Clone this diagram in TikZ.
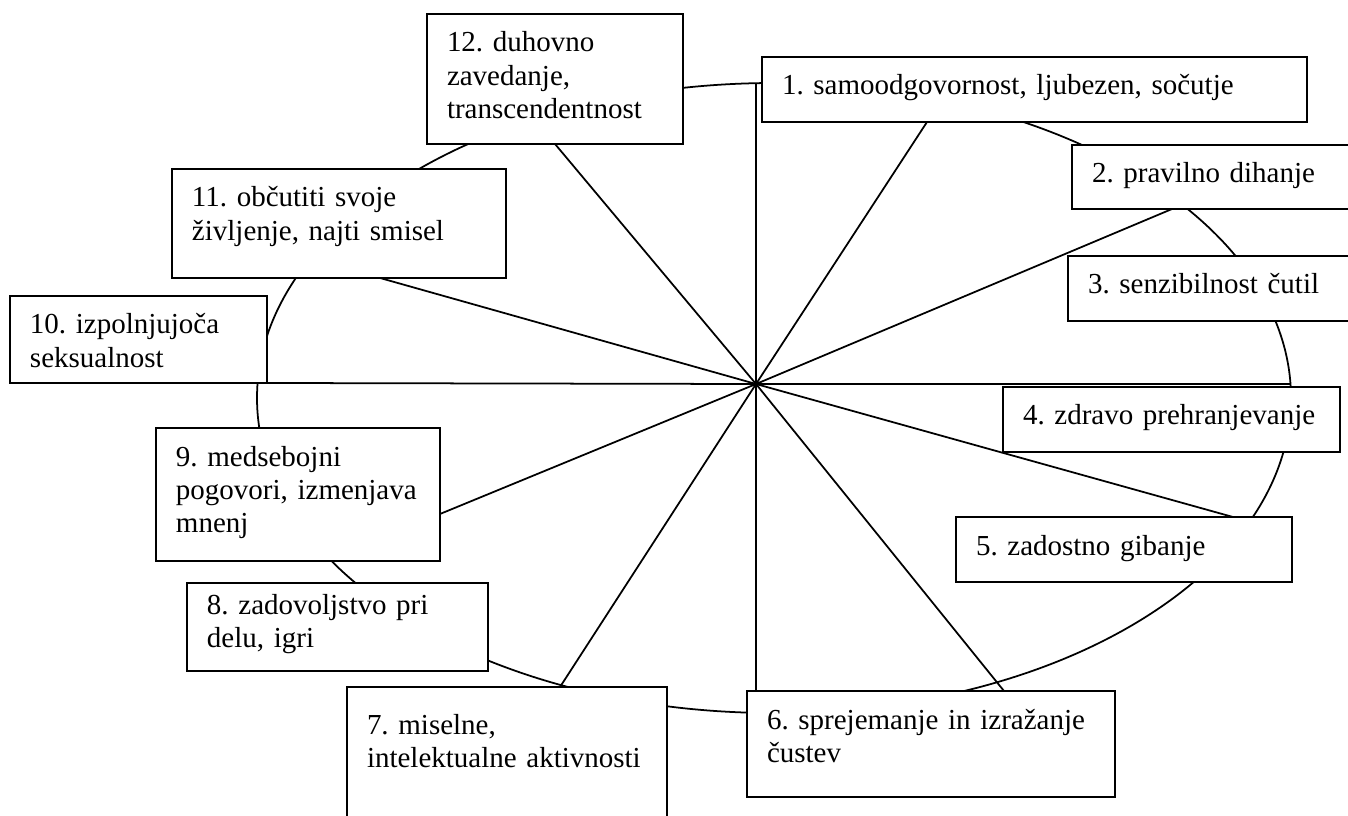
\documentclass[tikz,border=0pt]{standalone}
\usepackage{fontspec}
\setmainfont{Liberation Serif}
\usetikzlibrary{calc}

\begin{document}
\begin{tikzpicture}[
    x=0.02cm, y=-0.02cm,
    font=\fontsize{16.5pt}{18.95pt}\selectfont\frenchspacing,
    aspect/.style 2 args={draw, fill=white, line width=1.25pt, anchor=north west,
        inner xsep=0.4cm, inner ysep=0pt, outer sep=0pt, align=left,
        text width=#1, text height=0.76cm, text depth=#2,
        execute at begin node={\hyphenpenalty=10000\exhyphenpenalty=10000}},
    spoke/.style={line width=1pt},
]

\clip (0,0) rectangle (1348,815);

% ---- Wheel outline ----
\draw[line width=1pt] (774,398) ellipse [x radius=517, y radius=315];

\coordinate (hub) at (756,384);
\coordinate (rimtop) at (756,83);
\coordinate (rimright) at (1290,384);

% ---- Aspect boxes, clockwise from the top ----
\node[aspect={10.10cm}{0.54cm}] (box1) at (762,57)
    {1. samoodgovornost, ljubezen, sočutje};
\node[aspect={5.00cm}{0.52cm}] (box2) at (1072,145)
    {2. pravilno dihanje};
\node[aspect={5.08cm}{0.54cm}] (box3) at (1068,256)
    {3. senzibilnost čutil};
\node[aspect={5.94cm}{0.54cm}] (box4) at (1003,387)
    {4. zdravo prehranjevanje};
\node[aspect={5.92cm}{0.54cm}] (box5) at (956,517)
    {5. zadostno gibanje};
\node[aspect={6.56cm}{1.36cm}] (box6) at (747,691)
    {6. sprejemanje in izražanje\\ čustev};
\node[aspect={5.60cm}{1.86cm}, text height=0.94cm] (box7) at (347,687)
    {7. miselne,\\ intelektualne aktivnosti};
\node[aspect={5.22cm}{1.14cm}, text height=0.62cm] (box8) at (187,583)
    {8. zadovoljstvo pri\\ delu, igri};
\node[aspect={4.88cm}{1.90cm}] (box9) at (156,428)
    {9. medsebojni\\ pogovori, izmenjava\\ mnenj};
\node[aspect={4.34cm}{0.98cm}] (box10) at (10,296)
    {10. izpolnjujoča\\ seksualnost};
\node[aspect={5.88cm}{1.42cm}] (box11) at (172,169)
    {11. občutiti svoje\\ življenje, najti smisel};
\node[aspect={4.32cm}{1.84cm}] (box12) at (427,14)
    {12. duhovno\\ zavedanje,\\ transcendentnost};

% ---- Spokes from the hub ----
\draw[spoke] (hub) -- (rimtop);
\draw[spoke] (hub) -- ($(box1.south west)+(165,0)$);
\draw[spoke] (hub) -- ($(box2.south west)+(100,0)$);
\draw[spoke] (hub) -- (rimright);
\draw[spoke] (hub) -- ($(box5.north west)+(277,0)$);
\draw[spoke] (hub) -- ($(box6.north west)+(257,0)$);
\draw[spoke] (hub) -- ($(box6.north west)+(9,0)$);
\draw[spoke] (hub) -- ($(box7.north west)+(213,0)$);
\draw[spoke] (hub) -- ($(box9.north east)+(0,86)$);
\draw[spoke] (hub) -- (box10.south east);
\draw[spoke] (hub) -- ($(box11.south west)+(208,0)$);
\draw[spoke] (hub) -- ($(box12.south west)+(128,0)$);

\end{tikzpicture}
\end{document}
